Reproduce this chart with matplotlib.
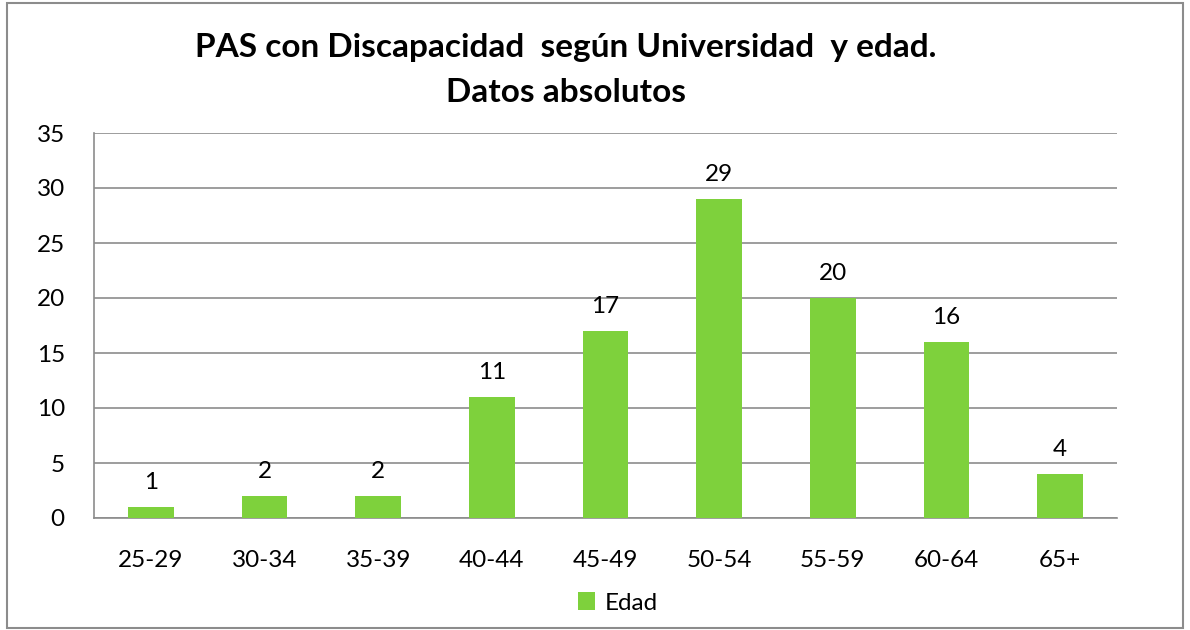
import numpy as np
import matplotlib
matplotlib.use("Agg")
from matplotlib import pyplot as plt
from matplotlib.patches import Rectangle

plt.rcParams['font.family'] = ['Lato', 'DejaVu Sans']

categories = ['25-29', '30-34', '35-39', '40-44', '45-49', '50-54', '55-59', '60-64', '65+']
values = [1, 2, 2, 11, 17, 29, 20, 16, 4]
series_name = 'Edad'
title = 'PAS con Discapacidad  según Universidad  y edad.\nDatos absolutos'

bar_color = '#7ED13C'
grid_color = '#8c8c8c'

fig = plt.figure(figsize=(11.9, 6.3), dpi=100)
ax = fig.add_axes([94 / 1190, 1 - 518 / 630, (1117 - 94) / 1190, (518 - 133) / 630])

x = np.arange(len(categories))
bars = ax.bar(x, values, width=0.4, color=bar_color, label=series_name, zorder=3)

for xi, v in zip(x, values):
    ax.text(xi, v + 1.3, str(v), ha='center', va='bottom', fontsize=17.5, color='black')

ax.set_xlim(-0.5, len(categories) - 0.5)
ax.set_ylim(0, 35)
ax.set_yticks(np.arange(0, 36, 5))
ax.set_xticks(x)
ax.set_xticklabels(categories)
ax.tick_params(axis='both', length=0, labelsize=17.5, colors='black')
ax.tick_params(axis='x', pad=23)
ax.tick_params(axis='y', pad=21)
ax.yaxis.grid(True, color=grid_color, linewidth=1.2, zorder=0)
for pos in ['right', 'top']:
    ax.spines[pos].set_visible(False)
for pos in ['left', 'bottom']:
    ax.spines[pos].set_color(grid_color)
    ax.spines[pos].set_linewidth(1.2)

fig.text(566 / 1190, 1 - 70 / 630, title, ha='center', va='center',
         fontsize=24, fontweight='bold', linespacing=1.65)

leg = fig.legend(loc='center', bbox_to_anchor=(618 / 1190, 1 - 603 / 630), frameon=False,
                 fontsize=17.5, handlelength=0.7, handleheight=0.7, handletextpad=0.4)

fig.patches.append(Rectangle((7 / 1190, 2 / 630), 1176 / 1190, 625 / 630, transform=fig.transFigure,
                             fill=False, edgecolor='#8c8c8c', linewidth=1.5))

fig.savefig('out.png', dpi=100)
